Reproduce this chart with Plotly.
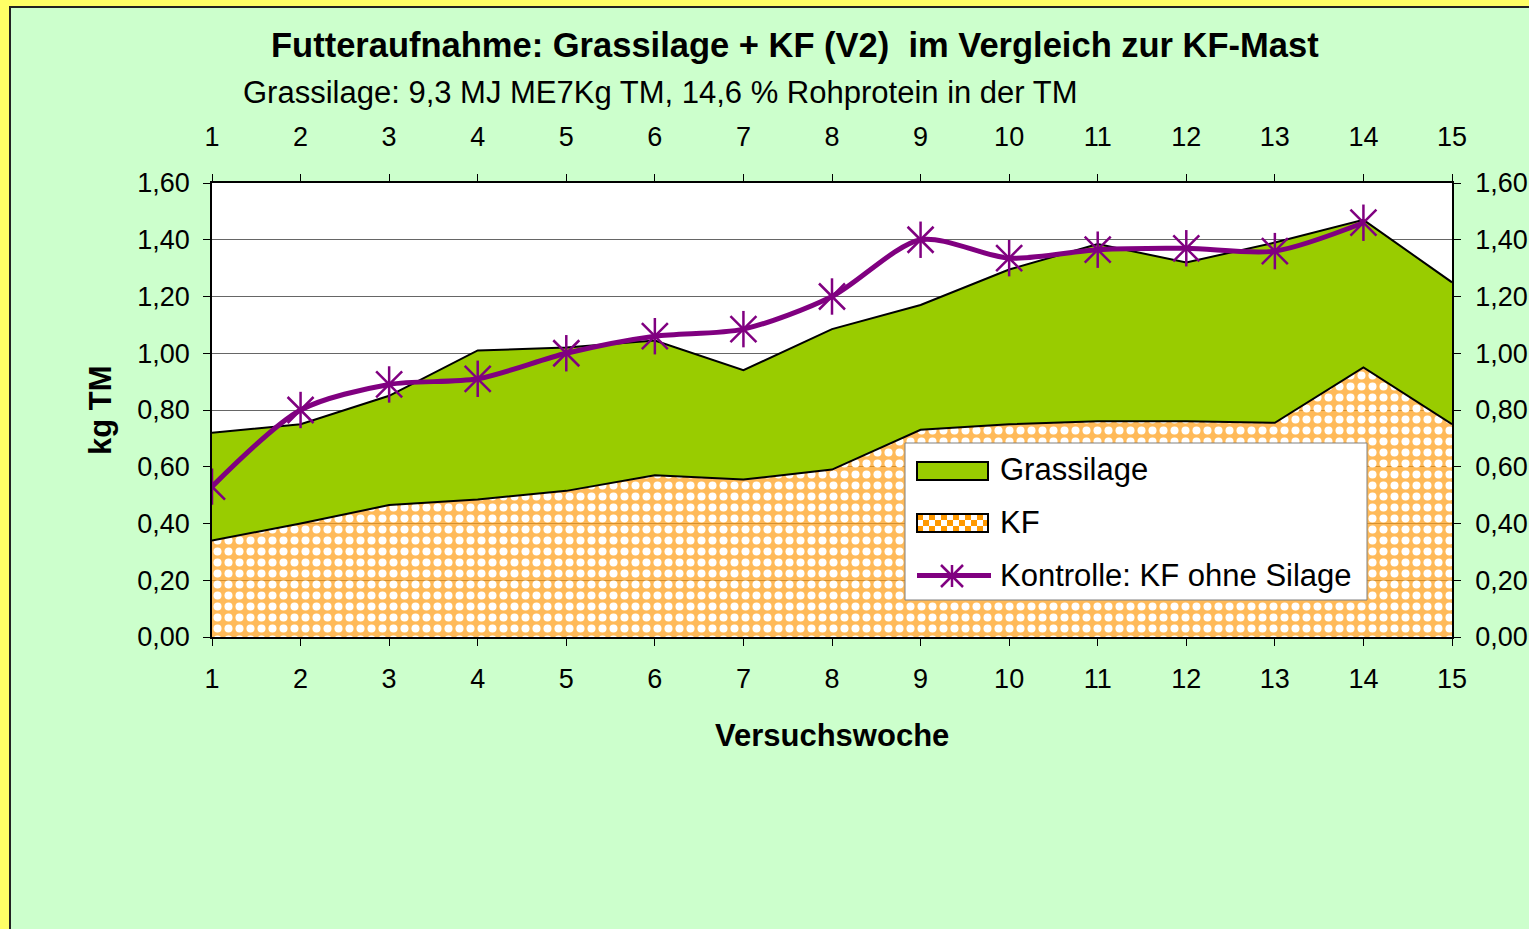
import plotly.graph_objects as go

# ---------------- data ----------------
weeks = list(range(1, 16))
week_labels = [str(w) for w in weeks]
kf = [0.34, 0.40, 0.465, 0.485, 0.515, 0.57, 0.555, 0.59, 0.73, 0.75, 0.76, 0.76, 0.755, 0.95, 0.75]
grassilage = [0.38, 0.35, 0.385, 0.525, 0.505, 0.475, 0.385, 0.495, 0.44, 0.545, 0.625, 0.56, 0.635, 0.52, 0.50]
kontroll_weeks = list(range(1, 15))
kontrolle = [0.53, 0.80, 0.89, 0.91, 1.00, 1.06, 1.085, 1.20, 1.40, 1.335, 1.365, 1.37, 1.36, 1.46]
y_ticks = [0.0, 0.2, 0.4, 0.6, 0.8, 1.0, 1.2, 1.4, 1.6]

series_names = ["Grassilage", "KF", "Kontrolle: KF ohne Silage"]
title_text = "Futteraufnahme: Grassilage + KF (V2)  im Vergleich zur KF-Mast"
subtitle_text = "Grassilage: 9,3 MJ ME7Kg TM, 14,6 % Rohprotein in der TM"
x_title = "Versuchswoche"
y_title = "kg TM"

# ---------------- geometry / style ----------------
FONT = "Liberation Sans, Arial, sans-serif"
W, H = 1529, 929
L, R, T, B = 212, 77, 183, 292
PW = W - L - R
PH = H - T - B

PURPLE = "#800080"
GREEN = "#99CC00"
ORANGE = "#FF9900"


def px(x):
    return (x - L) / PW


def py(y):
    return (H - B - y) / PH


fig = go.Figure()

fig.add_trace(go.Scatter(
    x=weeks, y=kf, name=series_names[1], stackgroup="one", mode="lines",
    line=dict(color="black", width=2),
    fillpattern=dict(shape=".", fillmode="replace", bgcolor="rgba(255,160,25,0.72)",
                     fgcolor="white", fgopacity=1, size=11, solidity=0.42),
    showlegend=False, hoverinfo="skip",
))
fig.add_trace(go.Scatter(
    x=weeks, y=grassilage, name=series_names[0], stackgroup="one", mode="lines",
    line=dict(color="black", width=2), fillcolor=GREEN,
    showlegend=False, hoverinfo="skip",
))
fig.add_trace(go.Scatter(
    x=kontroll_weeks, y=kontrolle, name=series_names[2],
    mode="lines+markers", line=dict(color=PURPLE, width=5, shape="spline", smoothing=0.8),
    marker=dict(symbol="x-thin-open", size=26, color=PURPLE, line=dict(color=PURPLE, width=2.5)),
    showlegend=False, hoverinfo="skip",
))
fig.add_trace(go.Scatter(
    x=kontroll_weeks, y=kontrolle, mode="markers", showlegend=False,
    marker=dict(symbol="line-ns-open", size=26, color=PURPLE, line=dict(color=PURPLE, width=2.5)),
    hoverinfo="skip",
))
# invisible trace that carries the top/right axes
fig.add_trace(go.Scatter(
    x=weeks, y=kf, xaxis="x2", yaxis="y2", mode="lines", opacity=0,
    showlegend=False, hoverinfo="skip",
))

axis_common = dict(
    showline=True, linecolor="black", linewidth=1.5,
    ticks="outside", ticklen=7, tickwidth=1.2, tickcolor="black",
    zeroline=False, automargin=False,
    tickfont=dict(family=FONT, size=27, color="black"),
)

# ---------------- background panel + manual legend ----------------
shapes = [
    dict(type="rect", xref="paper", yref="paper", layer="below",
         x0=px(10), x1=px(1545), y0=py(945), y1=py(7),
         fillcolor="#CCFFCC", line=dict(color="#222222", width=2)),
    dict(type="rect", xref="paper", yref="paper", layer="below",
         x0=0, x1=1, y0=0, y1=1, fillcolor="white", line=dict(width=0)),
    # legend box
    dict(type="rect", xref="paper", yref="paper", layer="above",
         x0=px(905), x1=px(1367), y0=py(600), y1=py(443),
         fillcolor="white", line=dict(color="#808080", width=1)),
    # Grassilage swatch
    dict(type="rect", xref="paper", yref="paper", layer="above",
         x0=px(917), x1=px(988), y0=py(480), y1=py(462),
         fillcolor=GREEN, line=dict(color="black", width=2)),
]
# KF swatch: checkerboard
cell = 6
sx0, sy0, sw, sh = 917, 514, 71, 18
for r in range(3):
    for c in range(12):
        if (r + c) % 2 == 0:
            x0 = sx0 + c * cell
            y0 = sy0 + r * cell
            shapes.append(dict(type="rect", xref="paper", yref="paper", layer="above",
                               x0=px(x0), x1=px(min(x0 + cell, sx0 + sw)),
                               y0=py(y0 + cell), y1=py(y0),
                               fillcolor=ORANGE, line=dict(width=0)))
shapes.append(dict(type="rect", xref="paper", yref="paper", layer="above",
                   x0=px(sx0), x1=px(sx0 + sw), y0=py(sy0 + sh), y1=py(sy0),
                   fillcolor="rgba(0,0,0,0)", line=dict(color="black", width=2)))
# Kontrolle swatch: line + star
shapes += [
    dict(type="line", xref="paper", yref="paper", layer="above",
         x0=px(917), x1=px(991), y0=py(575.5), y1=py(575.5),
         line=dict(color=PURPLE, width=5)),
    dict(type="line", xref="paper", yref="paper", layer="above",
         x0=px(952), x1=px(952), y0=py(565), y1=py(587),
         line=dict(color=PURPLE, width=2.5)),
    dict(type="line", xref="paper", yref="paper", layer="above",
         x0=px(941), x1=px(963), y0=py(565), y1=py(587),
         line=dict(color=PURPLE, width=2.5)),
    dict(type="line", xref="paper", yref="paper", layer="above",
         x0=px(941), x1=px(963), y0=py(587), y1=py(565),
         line=dict(color=PURPLE, width=2.5)),
]

annotations = [
    dict(text="<b>" + title_text + "</b>", xref="paper", yref="paper",
         x=px(795), y=py(45), xanchor="center", yanchor="middle", showarrow=False,
         font=dict(family=FONT, size=34.5, color="black")),
    dict(text=subtitle_text, xref="paper", yref="paper",
         x=px(660), y=py(92), xanchor="center", yanchor="middle", showarrow=False,
         font=dict(family=FONT, size=31, color="black")),
    dict(text="<b>" + x_title + "</b>", xref="paper", yref="paper",
         x=px(832), y=py(735), xanchor="center", yanchor="middle", showarrow=False,
         font=dict(family=FONT, size=31, color="black")),
    dict(text="<b>" + y_title + "</b>", xref="paper", yref="paper",
         x=px(100), y=py(410), xanchor="center", yanchor="middle", showarrow=False,
         textangle=-90, font=dict(family=FONT, size=31, color="black")),
]
for name, yc in zip(series_names, [470, 522, 575]):
    annotations.append(dict(text=name, xref="paper", yref="paper",
                            x=px(998), y=py(yc), xanchor="left", yanchor="middle",
                            showarrow=False, font=dict(family=FONT, size=31, color="black")))

fig.update_layout(
    width=W, height=H, autosize=False,
    margin=dict(l=L, r=R, t=T, b=B, pad=0, autoexpand=False),
    paper_bgcolor="#FFFF66", plot_bgcolor="white",
    separators=",.",
    font=dict(family=FONT, color="black"),
    showlegend=False,
    xaxis=dict(range=[1, 15], tickvals=weeks, ticktext=week_labels, showgrid=False,
               ticklabelstandoff=10, **axis_common),
    xaxis2=dict(range=[1, 15], tickvals=weeks, ticktext=week_labels, showgrid=False,
                overlaying="x", side="top", ticklabelstandoff=17, **axis_common),
    yaxis=dict(range=[0, 1.6], tickvals=y_ticks, tickformat=".2f", showgrid=True,
               gridcolor="#666666", gridwidth=1, ticklabelstandoff=8, **axis_common),
    yaxis2=dict(range=[0, 1.6], tickvals=y_ticks, tickformat=".2f", showgrid=False,
                overlaying="y", side="right", ticklabelstandoff=9, **axis_common),
    shapes=shapes,
    annotations=annotations,
)

fig.write_html("out.html", config={"displayModeBar": False, "responsive": False},
               post_script="document.body.style.margin='0px';document.body.style.overflow='hidden';")
